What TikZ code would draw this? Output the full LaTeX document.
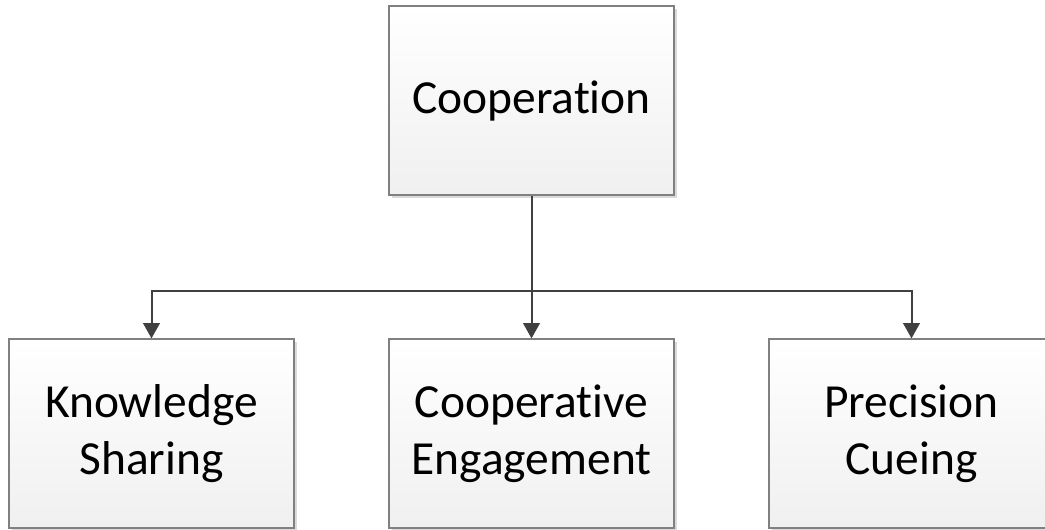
\documentclass[tikz,border=0pt]{standalone}
\usepackage{fontspec}
\setmainfont[Ligatures={NoCommon}]{Carlito}
\usetikzlibrary{arrows.meta,shadows}
\begin{document}
\begin{tikzpicture}[x=0.75pt,y=-0.75pt,
  unitbox/.style={draw=black!50, line width=0.9pt, top color=white, bottom color=black!6,
    minimum width=213.75pt, minimum height=141.75pt, inner sep=0pt, align=center,
    font=\fontsize{35.6}{42.8}\selectfont,
    drop shadow={shadow xshift=2.2pt, shadow yshift=-2.2pt, fill=black!18, opacity=0.8}},
  link/.style={draw=black!75, line width=1.5pt},
  tip/.style={-{Triangle[width=12.5pt,length=11.5pt]}}]
  \useasboundingbox (0,0) rectangle (1045,529);
  \node[unitbox] (coop) at (531.5,100.5) {Cooperation};
  \node[unitbox] (ks) at (151.5,433.5) {Knowledge\\Sharing};
  \node[unitbox] (ce) at (531.5,433.5) {Cooperative\\Engagement};
  \node[unitbox] (pc) at (911.5,433.5) {Precision\\Cueing};
  \coordinate (bus) at (531.5,291);
  \draw[link] (coop.south) -- (bus);
  \draw[link,tip] (bus) -| (ks.north);
  \draw[link,tip] (bus) -- (ce.north);
  \draw[link,tip] (bus) -| (pc.north);
\end{tikzpicture}
\end{document}
